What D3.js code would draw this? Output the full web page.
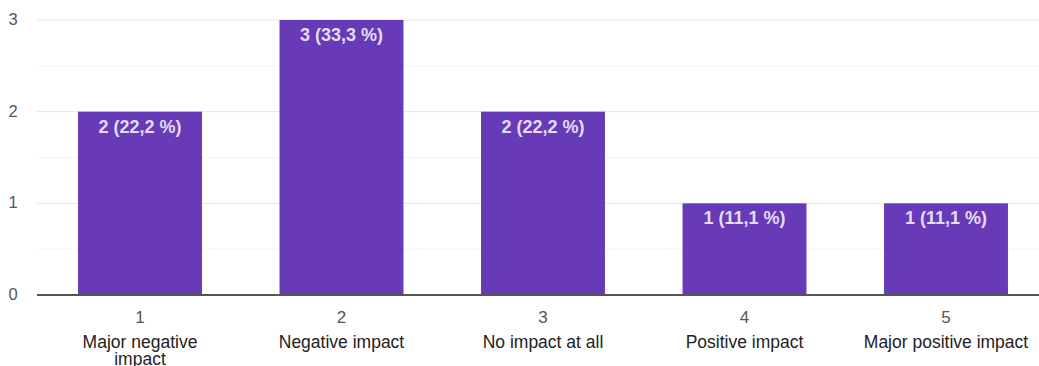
<!DOCTYPE html>
<html><head><meta charset="utf-8">
<script src="https://cdn.jsdelivr.net/npm/d3@7"></script>
<style>body{margin:0;background:#fff;}svg{display:block;}</style>
</head><body>
<svg id="c" width="1039" height="366"></svg>
<script>
const codes = ["1","2","3","4","5"];
const names = [["Major negative","impact"],["Negative impact"],["No impact at all"],["Positive impact"],["Major positive impact"]];
const counts = [2,3,2,1,1];
const labels = ["2 (22,2 %)","3 (33,3 %)","2 (22,2 %)","1 (11,1 %)","1 (11,1 %)"];
const yTicks = [0,1,2,3];
const yMinor = [0.5,1.5,2.5];

const svg = d3.select("#c");
const x = d3.scaleBand().domain(codes).range([39.25,1046.75]).paddingInner(0.385).paddingOuter(0.1925);
const y = d3.scaleLinear().domain([0,3]).range([295,20]);
const font = "'Liberation Sans', Arial, sans-serif";

svg.append("g").selectAll("line").data(yMinor).join("line")
  .attr("x1",37).attr("x2",1039).attr("y1",d=>y(d)).attr("y2",d=>y(d))
  .attr("stroke","#f3f3f3").attr("stroke-width",1);
svg.append("g").selectAll("line").data(yTicks.filter(d=>d>0)).join("line")
  .attr("x1",37).attr("x2",1039).attr("y1",d=>y(d)).attr("y2",d=>y(d))
  .attr("stroke","#e6e6e6").attr("stroke-width",1);

svg.append("g").selectAll("text").data(yTicks).join("text")
  .attr("x",13).attr("y",d=>y(d)+5).attr("text-anchor","middle")
  .attr("font-family",font).attr("font-size",16.5).attr("fill","#555").text(d=>d);

svg.append("g").selectAll("rect").data(counts).join("rect")
  .attr("x",(d,i)=>x(codes[i])).attr("width",x.bandwidth())
  .attr("y",d=>y(d)).attr("height",d=>y(0)-y(d)).attr("fill","#673ab7");

svg.append("g").selectAll("text").data(counts).join("text")
  .attr("x",(d,i)=>x(codes[i])+x.bandwidth()/2).attr("y",d=>y(d)+21)
  .attr("text-anchor","middle").attr("font-family",font).attr("font-size",18)
  .attr("font-weight","bold").attr("fill","#e4dcf3").text((d,i)=>labels[i]);

svg.append("line").attr("x1",37).attr("x2",1039).attr("y1",y(0)).attr("y2",y(0))
  .attr("stroke","#555").attr("stroke-width",2);

const xg = svg.append("g");
codes.forEach((c,i)=>{
  const cx = x(c)+x.bandwidth()/2;
  xg.append("text").attr("x",cx).attr("y",323).attr("text-anchor","middle")
    .attr("font-family",font).attr("font-size",17).attr("fill","#555").text(c);
  names[i].forEach((n,j)=>{
    xg.append("text").attr("x",cx).attr("y",348+j*17).attr("text-anchor","middle")
      .attr("font-family",font).attr("font-size",17.5).attr("fill","#222").text(n);
  });
});
</script>
</body></html>
